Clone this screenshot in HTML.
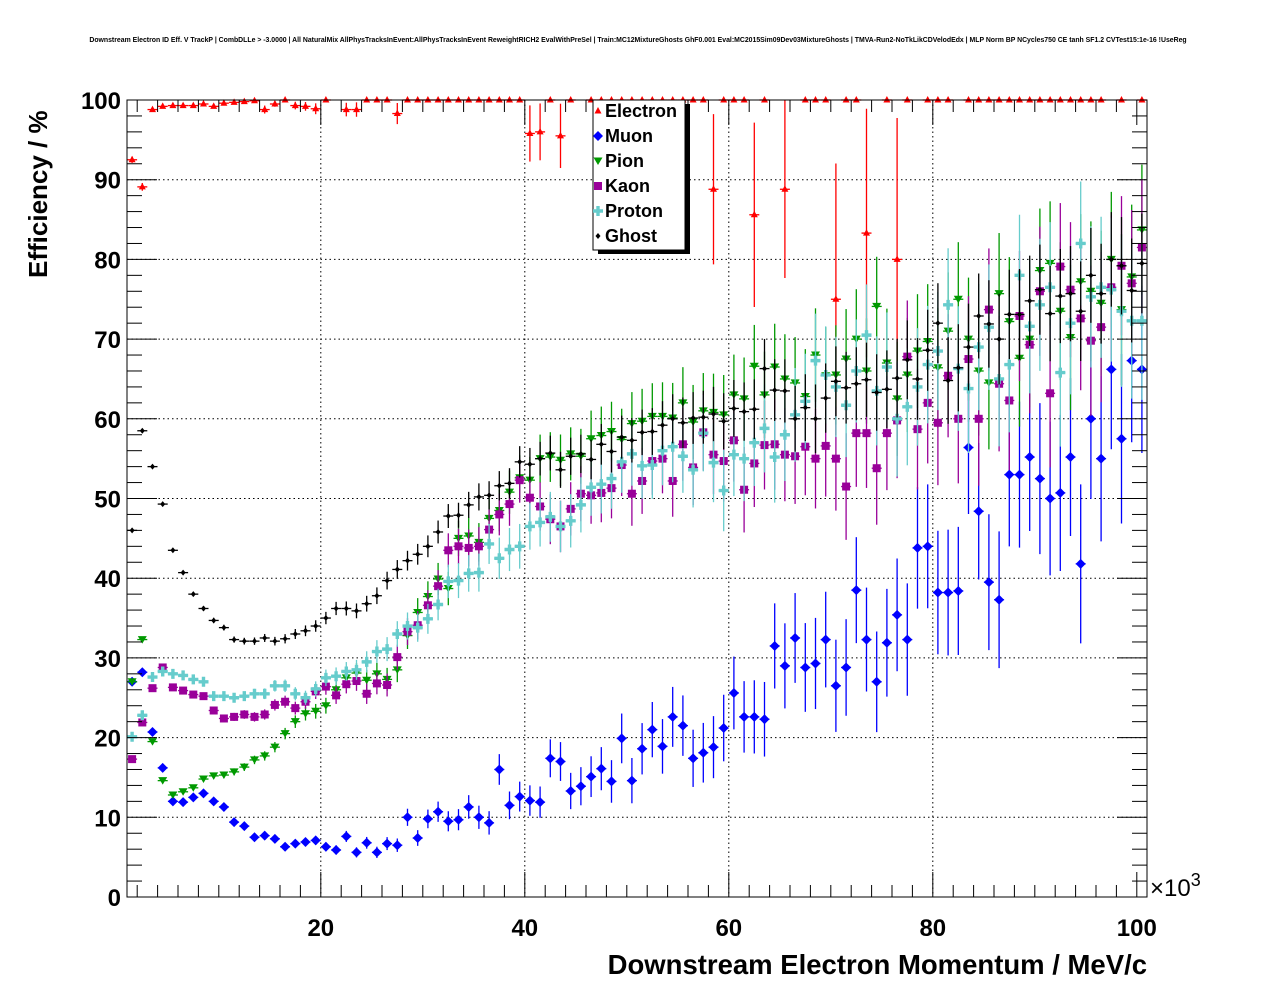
<!DOCTYPE html>
<html><head><meta charset="utf-8"><style>
html,body{margin:0;padding:0;background:#fff;}
svg{display:block;font-family:"Liberation Sans",sans-serif;}
</style></head><body>
<svg id="chart" width="1276" height="996" viewBox="0 0 1276 996" xmlns="http://www.w3.org/2000/svg">
<text x="638" y="42" font-size="6.9" font-weight="bold" text-anchor="middle">Downstream Electron ID Eff. V TrackP | CombDLLe &gt; -3.0000 | All NaturalMix AllPhysTracksInEvent:AllPhysTracksInEvent ReweightRICH2 EvalWithPreSel | Train:MC12MixtureGhosts GhF0.001 Eval:MC2015Sim09Dev03MixtureGhosts | TMVA-Run2-NoTkLikCDVelodEdx | MLP Norm BP NCycles750 CE tanh SF1.2 CVTest15:1e-16 !UseReg</text>
<g id="grid"></g>
<g id="marks"></g>
<rect x="127" y="100" width="1020" height="797" fill="none" stroke="#000" stroke-width="1"/>
<g id="axes"></g>
<text transform="translate(47,278) rotate(-90)" font-size="26" font-weight="bold">Efficiency / %</text>
<text x="1147" y="974" font-size="27.5" font-weight="bold" text-anchor="end">Downstream Electron Momentum / MeV/c</text>
<text x="1150" y="896" font-size="24">×10<tspan dy="-10" font-size="18">3</tspan></text>
<g id="legend">
<rect x="598" y="104" width="92" height="150" fill="#000"/>
<rect x="593" y="100" width="92" height="150" fill="#fff" stroke="#000"/>
</g>
</svg>
<script>
const categories = Array.from({length:100},(_, i)=> 1.5 + i); // bin centres (x10^3 MeV/c)
const xTicks = [20,40,60,80,100];
const yTicks = [0,10,20,30,40,50,60,70,80,90,100];
const seriesNames = ["Electron","Muon","Pion","Kaon","Proton","Ghost"];
const electron = [92.5,89.1,98.8,99.2,99.3,99.3,99.3,99.5,99.2,99.6,99.7,99.8,99.9,98.8,99.5,100,99.3,99.2,98.9,100,null,98.8,98.8,100,100,100,98.3,100,100,100,100,100,100,100,100,100,100,100,100,95.8,96,100,95.5,100,null,100,100,100,100,100,100,100,100,100,100,100,100,88.8,100,100,100,85.6,100,null,88.8,null,100,100,100,75,100,100,83.3,null,100,80,100,null,100,100,100,null,100,100,100,100,100,100,100,100,100,100,100,100,100,100,null,100,null,100];
const muon = [27,28.2,20.7,16.2,12,11.9,12.5,13,12,11.3,9.4,8.9,7.5,7.7,7.3,6.3,6.7,6.9,7.1,6.3,5.9,7.6,5.6,6.8,5.6,6.7,6.5,10,7.4,9.8,10.7,9.5,9.7,11.3,10,9.3,16,11.5,12.6,12.1,11.9,17.4,17,13.3,13.9,15.1,16.1,14.5,19.9,14.6,18.6,21,18.9,22.6,21.5,17.4,18.1,18.8,21.2,25.6,22.6,22.6,22.3,31.5,29,32.5,28.8,29.3,32.3,26.5,28.8,38.5,32.3,27,31.9,35.4,32.3,43.8,44,38.2,38.2,38.4,56.4,48.4,39.5,37.3,53,53,55.2,52.5,50,50.7,55.2,41.8,60,55,66.2,57.5,67.3,66.2];
const pion = [27,32.3,19.5,14.6,12.8,13.2,13.7,14.8,15.2,15.3,15.7,16.3,17.2,17.7,18.8,20.5,22,23,23.3,24,26,27.5,28.1,27.2,28,27.3,28.5,32.8,35.7,37.7,39.9,38.7,45,45.3,44.5,47.5,48.5,50.8,52.6,52.3,55,55.2,54.8,55.6,55.3,57.5,57.9,58.4,57.4,59.4,59.7,60.3,60.3,60.1,62,59.6,61,60.8,60.5,63,62.5,66.6,63,66.5,65,64.5,62.8,68,65.4,65.5,67.5,70,66,74.1,67,62.5,65.5,68.5,69.7,66.4,71,75,70,66,64.5,75.7,72.2,67.6,70,78.6,79.5,73.5,70.2,77.2,76,74.5,80,73.7,77.8,83.7];
const kaon = [17.3,21.9,26.2,28.8,26.3,25.9,25.4,25.2,23.4,22.4,22.6,22.9,22.6,22.9,24.1,24.5,23.7,24.5,25.8,26.4,25.3,26.7,27.1,25.5,26.8,26.6,30.1,33.3,34.1,36.6,39,43.5,44,43.8,44,46.1,48,49.3,52.3,50.1,49,47.4,46.5,48.7,50.6,50.4,50.7,51.3,54.2,50.6,52.2,54.7,55,52.2,56.8,53.9,58.3,55.5,54.7,57.3,51.1,54.4,56.7,56.8,55.5,55.3,56.5,55,56.6,55,51.5,58.2,58.2,53.8,58.2,59.8,67.8,58.7,62,59.5,65.4,60,67.5,60,73.7,64.4,62.3,72.9,69.3,76,63.2,79.1,76.2,72.6,69.8,71.5,76.5,79.2,77,81.5];
const proton = [20.1,22.8,27.6,28.3,28,27.8,27.3,27,25.2,25.2,25,25.2,25.5,25.5,26.5,26.5,25.5,25,26.1,27.5,27.7,28.3,28.5,29.5,30.8,31.1,33,34,33.8,34.9,36.7,39.6,39.7,40.6,40.7,44.3,42.5,43.6,44,46.5,47,47.7,46.5,47.2,49.2,51.4,51.8,52.5,54.6,55.6,54.1,54.2,56,56.5,55.3,53.6,58.2,54.5,51,55.5,55,57,58.8,55.2,58,60.5,62.2,67.3,65.5,64,61.7,66,70.5,63.5,66.5,60,61.5,64,66.8,68.5,74.3,66.3,63.8,69,71.5,65,66.8,78,71.6,74.3,76.5,65.8,72,82,75.3,76.5,76.2,73.5,72.3,72.3];
const ghost = [46,58.5,54,49.3,43.5,40.7,38,36.2,34.7,33.8,32.3,32.1,32.1,32.5,32.1,32.4,33,33.4,34,35,36.2,36.2,35.9,36.8,37.8,39.7,41.1,42.2,43,44,45.8,47.8,47.9,49.2,50.2,50.4,51.6,51.9,54.6,54.3,55,55.7,53.6,55.3,55.6,54.9,56.8,55.9,57.7,57.3,58.3,58.4,59.2,60,59.5,60.1,60.2,60.6,59.7,61.3,60.9,61.2,66.3,63.6,63.5,60,61.4,60,62.6,64.7,63.9,64.4,64.9,63.3,63.7,65.1,67.4,65,68.6,72,64.8,66.4,69,72.9,71.9,70,73.1,73.1,74.8,76.2,73.2,75.4,75.7,73.5,78,75.7,80,79.2,76.1,79.5];

const X0=127,X1=1147,Y0=897,Y1=100,XMIN=1,XMAX=101,YMIN=0,YMAX=100;
function xs(v){return X0+(v-XMIN)/(XMAX-XMIN)*(X1-X0);}
function ys(v){return Y0-(v-YMIN)/(YMAX-YMIN)*(Y0-Y1);}
const NS="http://www.w3.org/2000/svg";
function mk(tag,attrs,parent){const e=document.createElementNS(NS,tag);for(const k in attrs)e.setAttribute(k,attrs[k]);parent.appendChild(e);return e;}

const grid=document.getElementById('grid');
const axes=document.getElementById('axes');
xTicks.forEach(t=>{
  if(t<100){const l=mk('line',{x1:xs(t),x2:xs(t),y1:Y1,y2:Y0,stroke:'#000','stroke-dasharray':'1.5,3'},grid);
  
  }
  const tx=mk('text',{x:xs(t),y:936,'font-size':24,'font-weight':'bold','text-anchor':'middle'},axes);
  tx.textContent=t;
  
  
});
for(let v=2;v<=100;v+=2){
  const len=(v%20===0)?25:12;
  mk('line',{x1:xs(v),x2:xs(v),y1:Y0,y2:Y0-len,stroke:'#000'},axes);
  mk('line',{x1:xs(v),x2:xs(v),y1:Y1,y2:Y1+len,stroke:'#000'},axes);
}
yTicks.forEach(t=>{
  if(t>0&&t<100){const l=mk('line',{x1:X0,x2:X1,y1:ys(t),y2:ys(t),stroke:'#000','stroke-dasharray':'1.5,3'},grid);
  
  }
  const tx=mk('text',{x:121,y:ys(t)+9,'font-size':24,'font-weight':'bold','text-anchor':'end'},axes);
  tx.textContent=t;
  
  
});
for(let v=2;v<100;v+=2){
  const len=(v%10===0)?30:15;
  mk('line',{x1:X0,x2:X0+len,y1:ys(v),y2:ys(v),stroke:'#000'},axes);
  mk('line',{x1:X1,x2:X1-len,y1:ys(v),y2:ys(v),stroke:'#000'},axes);
}

const colors={Electron:'#ff0000',Muon:'#0000ff',Pion:'#009900',Kaon:'#990099',Proton:'#66cccc',Ghost:'#000000'};
const dataMap={Electron:electron,Muon:muon,Pion:pion,Kaon:kaon,Proton:proton,Ghost:ghost};
function marker(name,cx,cy,parent){
  const c=colors[name];
  if(name==='Electron') return mk('polygon',{points:`${cx},${cy-4} ${cx-3.5},${cy+2.5} ${cx+3.5},${cy+2.5}`,fill:c},parent);
  if(name==='Muon') return mk('polygon',{points:`${cx},${cy-5} ${cx+5},${cy} ${cx},${cy+5} ${cx-5},${cy}`,fill:c},parent);
  if(name==='Pion') return mk('polygon',{points:`${cx-4.5},${cy-3.5} ${cx+4.5},${cy-3.5} ${cx},${cy+4}`,fill:c},parent);
  if(name==='Kaon') return mk('rect',{x:cx-4,y:cy-4,width:8,height:8,fill:c},parent);
  if(name==='Proton') return mk('path',{d:`M${cx-5},${cy-1.7}h3.3v-3.3h3.4v3.3h3.3v3.4h-3.3v3.3h-3.4v-3.3h-3.3z`,fill:c},parent);
  return mk('polygon',{points:`${cx},${cy-3} ${cx+2.5},${cy} ${cx},${cy+3} ${cx-2.5},${cy}`,fill:c},parent);
}
const marks=document.getElementById('marks');
seriesNames.forEach(name=>{
  const arr=dataMap[name];
  const g=mk('g',{},marks);
  
  
  const c=colors[name];
  categories.forEach((x,i)=>{
    const v=arr[i];
    if(v===null||v===undefined) return;
    const cx=xs(x),cy=ys(v);
    const f=0.22*Math.pow(i/100,1.5)+0.005;
    let err=Math.sqrt(Math.max(v*(100-v),0))*f;
    if(name==='Electron') err*=3;
    if(name==='Ghost') err*=0.7;
    mk('line',{x1:cx-5,x2:cx+5,y1:cy,y2:cy,stroke:c,'stroke-width':1.3},g);
    if(err>0.3) mk('line',{x1:cx,x2:cx,y1:ys(Math.max(0,v-err)),y2:ys(Math.min(100,v+err)),stroke:c,'stroke-width':1.3},g);
    const m=marker(name,cx,cy,g);
    
    
  });
});
const legend=document.getElementById('legend');
seriesNames.forEach((name,i)=>{
  const y=111+i*25;
  const m=marker(name,598,y,legend);
  
  
  const t=mk('text',{x:605,y:y+6,'font-size':18,'font-weight':'bold'},legend);
  t.textContent=name;
  
  
});
</script>
</body></html>
